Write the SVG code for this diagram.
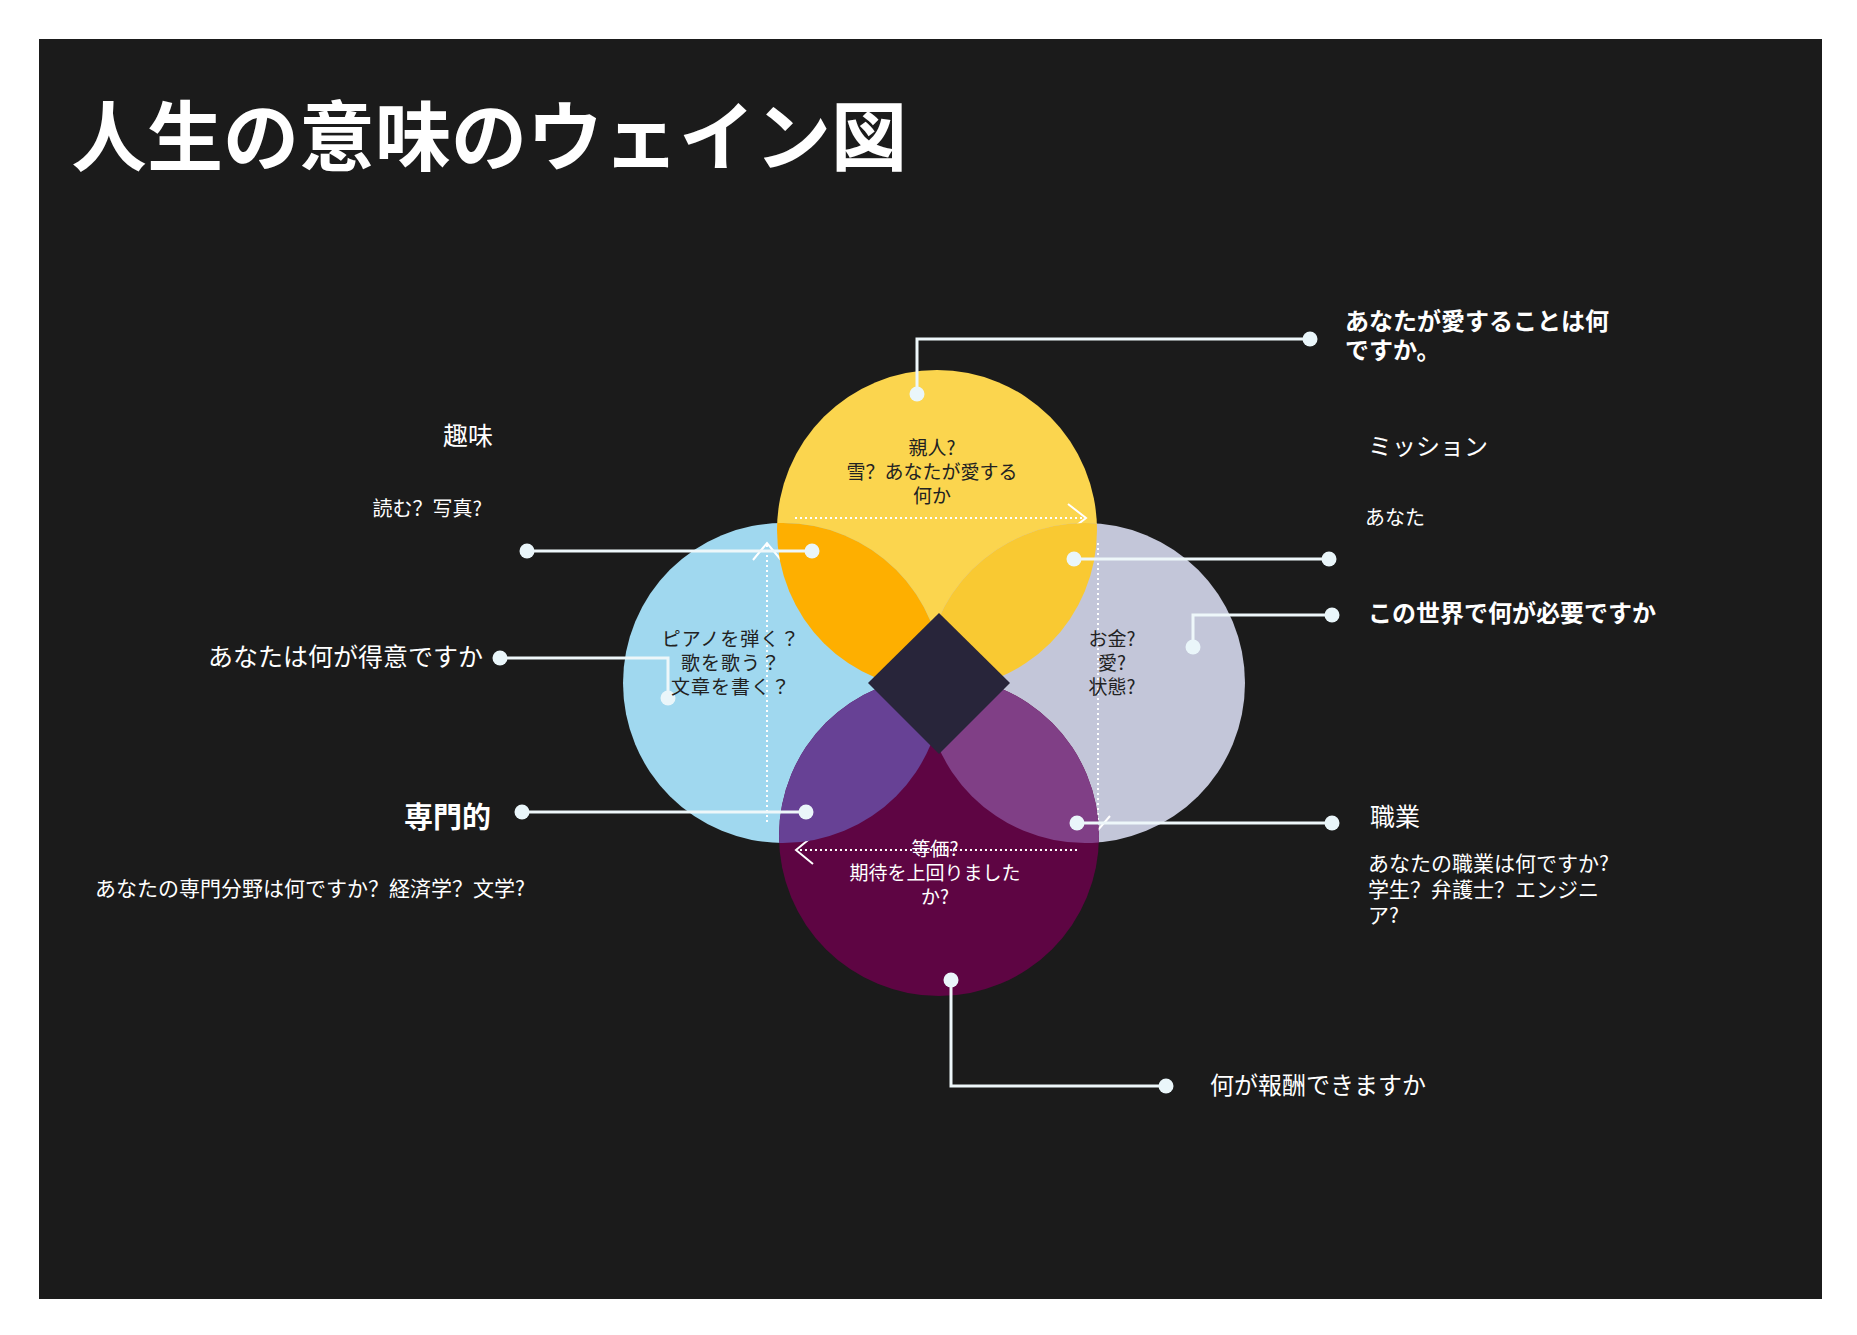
<svg xmlns="http://www.w3.org/2000/svg" width="1857" height="1335" viewBox="0 0 1857 1335">
<style>
text{font-family:"Noto Sans CJK SC","Noto Sans CJK JP","Noto Sans",sans-serif;}
.jp{font-family:"Noto Sans CJK JP","Noto Sans CJK SC",sans-serif;}
.w{fill:#ffffff;}
.d{fill:#222222;}
.b{font-weight:700;}
.conn{fill:none;stroke:#eef7fa;stroke-width:3;}
.dot{fill:#eaf6fa;}
.dash{fill:none;stroke:#ffffff;stroke-width:2;stroke-dasharray:2 3;}
.chev{fill:none;stroke:#ffffff;stroke-width:2;}
</style>
<defs>
<clipPath id="cT"><circle cx="937" cy="530" r="160"/></clipPath>
<clipPath id="cB"><circle cx="939" cy="836" r="160"/></clipPath>
</defs>
<rect x="0" y="0" width="1857" height="1335" fill="#ffffff"/>
<rect x="39" y="39" width="1783" height="1260" fill="#1b1b1b"/>
<text id="title" x="71" y="165" font-size="76" class="w b">人生の意味のウェイン図</text>

<g id="circle-love"><circle cx="937" cy="530" r="160" fill="#fbd54e"/></g>
<g id="circle-good"><circle cx="783" cy="683" r="160" fill="#a0d8ef"/></g>
<g id="circle-need"><circle cx="1085" cy="683" r="160" fill="#c3c6d9"/></g>
<g id="circle-paid"><circle cx="939" cy="836" r="160" fill="#5e0543"/></g>

<g id="flow-arrows">
<line class="dash" x1="795" y1="518" x2="1083" y2="518"/>
<polyline class="chev" points="1068,504 1086,518 1068,532"/>
<line class="dash" x1="1098" y1="543" x2="1098" y2="828"/>
<polyline class="chev" points="1086,816 1098,830 1110,816"/>
<line class="dash" x1="1077" y1="850" x2="798" y2="850"/>
<polyline class="chev" points="813,836 796,850 813,864"/>
<line class="dash" x1="767" y1="822" x2="767" y2="545"/>
<polyline class="chev" points="753,560 767,543 781,560"/>
</g>

<g id="lens-passion"><circle cx="783" cy="683" r="160" fill="#feaf00" clip-path="url(#cT)"/></g>
<g id="lens-mission"><circle cx="1085" cy="683" r="160" fill="#f9c932" clip-path="url(#cT)"/></g>
<g id="lens-profession"><circle cx="783" cy="683" r="160" fill="#674195" clip-path="url(#cB)"/></g>
<g id="lens-vocation"><circle cx="1085" cy="683" r="160" fill="#803f86" clip-path="url(#cB)"/></g>
<g id="center-ikigai"><polygon points="939,613 1010,683 939,754 868,683" fill="#28253a"/></g>

<g id="connectors">
<path class="conn" d="M917 394 V339 H1310"/>
<path class="conn" d="M527 551 H812"/>
<path class="conn" d="M500 658 H668 V698"/>
<path class="conn" d="M522 812 H806"/>
<path class="conn" d="M1074 559 H1329"/>
<path class="conn" d="M1193 647 V615 H1332"/>
<path class="conn" d="M1077 823 H1332"/>
<path class="conn" d="M951 980 V1086 H1166"/>
<circle class="dot" cx="917" cy="394" r="7.5"/><circle class="dot" cx="1310" cy="339" r="7.5"/>
<circle class="dot" cx="527" cy="551" r="7.5"/><circle class="dot" cx="812" cy="551" r="7.5"/>
<circle class="dot" cx="500" cy="658" r="7.5"/><circle class="dot" cx="668" cy="698" r="7.5"/>
<circle class="dot" cx="522" cy="812" r="7.5"/><circle class="dot" cx="806" cy="812" r="7.5"/>
<circle class="dot" cx="1074" cy="559" r="7.5"/><circle class="dot" cx="1329" cy="559" r="7.5"/>
<circle class="dot" cx="1193" cy="647" r="7.5"/><circle class="dot" cx="1332" cy="615" r="7.5"/>
<circle class="dot" cx="1077" cy="823" r="7.5"/><circle class="dot" cx="1332" cy="823" r="7.5"/>
<circle class="dot" cx="951" cy="980" r="7.5"/><circle class="dot" cx="1166" cy="1086" r="7.5"/>
</g>

<g id="text-love" font-size="19" text-anchor="middle">
<text x="932" y="455" class="d">親人?</text>
<text x="932" y="479" class="d">雪？あなたが愛する</text>
<text x="932" y="503" class="d">何か</text>
</g>
<g id="text-good" font-size="19" text-anchor="middle" letter-spacing="1">
<text x="731" y="646" class="d jp">ピアノを弾く？</text>
<text x="731" y="670" class="d jp">歌を歌う？</text>
<text x="731" y="694" class="d jp">文章を書く？</text>
</g>
<g id="text-need" font-size="19" text-anchor="middle">
<text x="1112" y="646" class="d">お金?</text>
<text x="1112" y="670" class="d">愛?</text>
<text x="1112" y="694" class="d">状態?</text>
</g>
<g id="text-paid" font-size="19" text-anchor="middle">
<text x="935" y="856" class="w">等価?</text>
<text x="935" y="880" class="w">期待を上回りました</text>
<text x="935" y="904" class="w">か?</text>
</g>

<g id="label-love">
<text x="1345" y="330" font-size="24" class="w b">あなたが愛することは何</text>
<text x="1345" y="359" font-size="24" class="w b">ですか。</text>
</g>
<g id="label-mission">
<text x="1368" y="455" font-size="24" class="w">ミッション</text>
<text x="1365" y="525" font-size="20" class="w">あなた</text>
</g>
<g id="label-need">
<text x="1368" y="622" font-size="24" class="w b">この世界で何が必要ですか</text>
</g>
<g id="label-vocation">
<text x="1370" y="826" font-size="25" class="w">職業</text>
<text x="1368" y="871" font-size="21" class="w">あなたの職業は何ですか?</text>
<text x="1368" y="897" font-size="21" class="w">学生？弁護士？エンジニ</text>
<text x="1368" y="923" font-size="21" class="w">ア?</text>
</g>
<g id="label-paid">
<text x="1210" y="1094" font-size="24" class="w">何が報酬できますか</text>
</g>
<g id="label-passion" text-anchor="end">
<text x="493" y="445" font-size="25" class="w">趣味</text>
<text x="482" y="516" font-size="20" class="w">読む？写真?</text>
</g>
<g id="label-good" text-anchor="end">
<text x="483" y="666" font-size="25" class="w">あなたは何が得意ですか</text>
</g>
<g id="label-profession">
<text x="491" y="828" font-size="29" text-anchor="end" class="w b">専門的</text>
<text x="95" y="896" font-size="21" class="w">あなたの専門分野は何ですか？経済学？文学?</text>
</g>
</svg>
